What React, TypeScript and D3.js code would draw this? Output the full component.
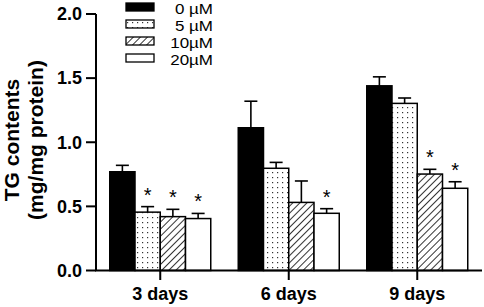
import React from "react";
import * as d3 from "d3";

const days = ["3 days", "6 days", "9 days"];
const seriesNames = ["0 µM", "5 µM", "10µM", "20µM"];
const means0 = [0.77, 1.113, 1.44];
const means5 = [0.455, 0.797, 1.303];
const means10 = [0.42, 0.531, 0.752];
const means20 = [0.405, 0.446, 0.641];
const err0 = [0.05, 0.207, 0.07];
const err5 = [0.043, 0.046, 0.042];
const err10 = [0.057, 0.167, 0.037];
const err20 = [0.04, 0.036, 0.051];
const sig0 = [false, false, false];
const sig5 = [true, false, false];
const sig10 = [true, false, true];
const sig20 = [true, true, true];
const yTicks = [0, 0.5, 1.0, 1.5, 2.0];
const yTitle1 = "TG contents";
const yTitle2 = "(mg/mg protein)";

const means = [means0, means5, means10, means20];
const errs = [err0, err5, err10, err20];
const sigs = [sig0, sig5, sig10, sig20];
const fills = ["#000", "url(#dots)", "url(#hatch)", "#fff"];

export default function App() {
  const W = 484, H = 307;
  const y = d3.scaleLinear().domain([0, 2]).range([270.5, 14]);
  const x0 = d3.scaleBand<string>().domain(days).range([96, 481.5]).padding(0);
  const x1 = d3.scaleBand<string>().domain(seriesNames).range([0, 101]).padding(0);
  const font = "'Liberation Sans', Arial, Helvetica, sans-serif";
  const capW = 13;

  return (
    <svg width={W} height={H} style={{ position: "absolute", left: 0, top: 0, background: "#fff" }} fontFamily={font}>
      <defs>
        <pattern id="dots" width={5} height={5} patternUnits="userSpaceOnUse">
          <rect width={5} height={5} fill="#fff" />
          <rect x={2} y={2} width={1.2} height={1.2} fill="#333" />
        </pattern>
        <pattern id="hatch" width={5} height={5} patternUnits="userSpaceOnUse" patternTransform="rotate(45)">
          <rect width={5} height={5} fill="#fff" />
          <line x1={0} y1={0} x2={0} y2={5} stroke="#000" strokeWidth={1.6} />
        </pattern>
      </defs>

      {/* bars */}
      {days.map((d, di) => {
        const gx = x0(d)! + x0.bandwidth() / 2 - 50.5;
        return (
          <g key={d}>
            {seriesNames.map((s, si) => {
              const v = means[si][di];
              const e = errs[si][di];
              const bx = gx + x1(s)!;
              const bw = x1.bandwidth();
              const cx = bx + bw / 2;
              return (
                <g key={s}>
                  <line x1={cx} x2={cx} y1={y(v)} y2={y(v + e)} stroke="#000" strokeWidth={1.6} />
                  <line x1={cx - capW / 2} x2={cx + capW / 2} y1={y(v + e)} y2={y(v + e)} stroke="#000" strokeWidth={1.6} />
                  <rect x={bx} y={y(v)} width={bw} height={y(0) - y(v)} fill={fills[si]} stroke="#000" strokeWidth={1.5} />
                  {sigs[si][di] && (
                    <text x={cx} y={y(v + e) - 5} textAnchor="middle" fontSize={20}>*</text>
                  )}
                </g>
              );
            })}
          </g>
        );
      })}

      {/* y axis */}
      <line x1={96} x2={96} y1={y(2)} y2={y(0)} stroke="#000" strokeWidth={2} />
      {yTicks.map((t) => (
        <g key={t}>
          <line x1={86} x2={96} y1={y(t)} y2={y(t)} stroke="#000" strokeWidth={2} />
          <text x={82} y={y(t) + 6.3} textAnchor="end" fontSize={18} fontWeight="bold">{t.toFixed(1)}</text>
        </g>
      ))}

      {/* x axis */}
      <line x1={95} x2={482} y1={y(0)} y2={y(0)} stroke="#000" strokeWidth={2} />
      {days.map((d) => {
        const cx = x0(d)! + x0.bandwidth() / 2;
        return (
          <g key={d}>
            <line x1={cx} x2={cx} y1={y(0)} y2={280} stroke="#000" strokeWidth={2} />
            <text x={cx} y={300} textAnchor="middle" fontSize={18} fontWeight="bold">{d}</text>
          </g>
        );
      })}

      {/* y title */}
      <g transform="translate(18.5,140) rotate(-90)">
        <text x={0} y={0} textAnchor="middle" fontSize={21} fontWeight="bold">{yTitle1}</text>
        <text x={0} y={24} textAnchor="middle" fontSize={21} fontWeight="bold">{yTitle2}</text>
      </g>

      {/* legend */}
      {seriesNames.map((s, i) => {
        const ty = 3 + i * 17;
        return (
          <g key={s}>
            <rect x={126} y={ty} width={28} height={8} fill={fills[i]} stroke="#000" strokeWidth={1.3} />
            <text transform={`translate(213,${ty + 10.5}) scale(1.17,1)`} textAnchor="end" fontSize={14.5}>{s}</text>
          </g>
        );
      })}
    </svg>
  );
}
